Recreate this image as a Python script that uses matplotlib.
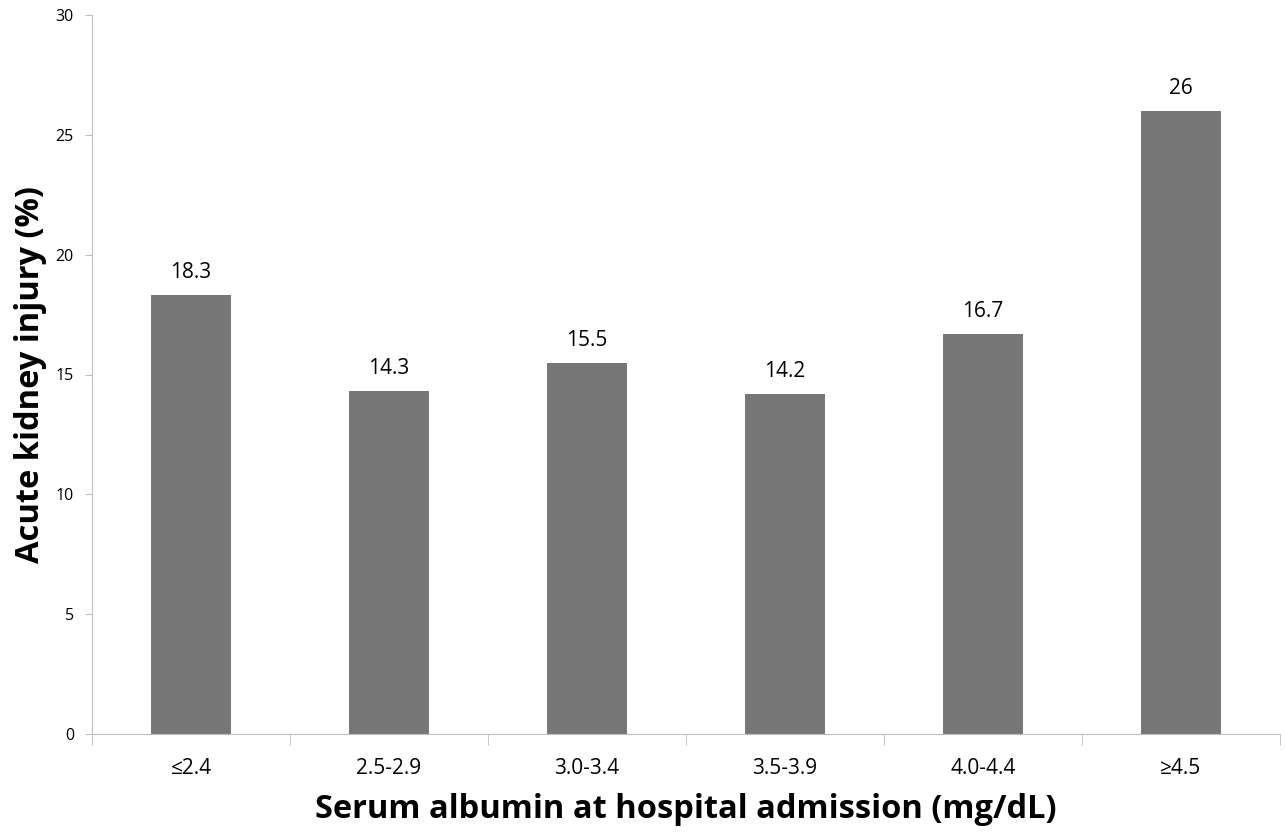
import numpy as np
import matplotlib
matplotlib.use("Agg")
import matplotlib.pyplot as plt

categories = ["≤2.4", "2.5-2.9", "3.0-3.4", "3.5-3.9", "4.0-4.4", "≥4.5"]
aki_pct = [18.3, 14.3, 15.5, 14.2, 16.7, 26]
value_labels = ["18.3", "14.3", "15.5", "14.2", "16.7", "26"]

plt.rcParams['font.family'] = ['Open Sans', 'DejaVu Sans']

fig = plt.figure(figsize=(12.85, 8.32), dpi=100)
ax = fig.add_axes([92/1285, 98/832, 1188/1285, 719/832])

x = np.arange(len(categories))
ax.bar(x, aki_pct, width=0.4, color='#777777')
for xi, v, lab in zip(x, aki_pct, value_labels):
    ax.text(xi, v + 0.5, lab, ha='center', va='bottom', fontsize=15)

ax.set_xlim(-0.5, len(categories) - 0.5)
ax.set_ylim(0, 30)
ax.set_yticks(range(0, 31, 5))
ax.tick_params(axis='y', labelsize=11.5, length=5, color='#bfbfbf', pad=8)

ax.set_xticks(x)
ax.set_xticklabels(categories, fontsize=15)
ax.tick_params(axis='x', which='major', length=0, pad=17)
ax.set_xticks(np.arange(-0.5, len(categories)), minor=True)
ax.tick_params(axis='x', which='minor', length=8, color='#bfbfbf')

for s in ['top', 'right']:
    ax.spines[s].set_visible(False)
for s in ['left', 'bottom']:
    ax.spines[s].set_color('#bfbfbf')

ax.set_xlabel("Serum albumin at hospital admission (mg/dL)", fontsize=23.5, fontweight='bold', labelpad=10)
ax.set_ylabel("Acute kidney injury (%)", fontsize=23.5, fontweight='bold', labelpad=6)

fig.savefig("out.png", dpi=100)
